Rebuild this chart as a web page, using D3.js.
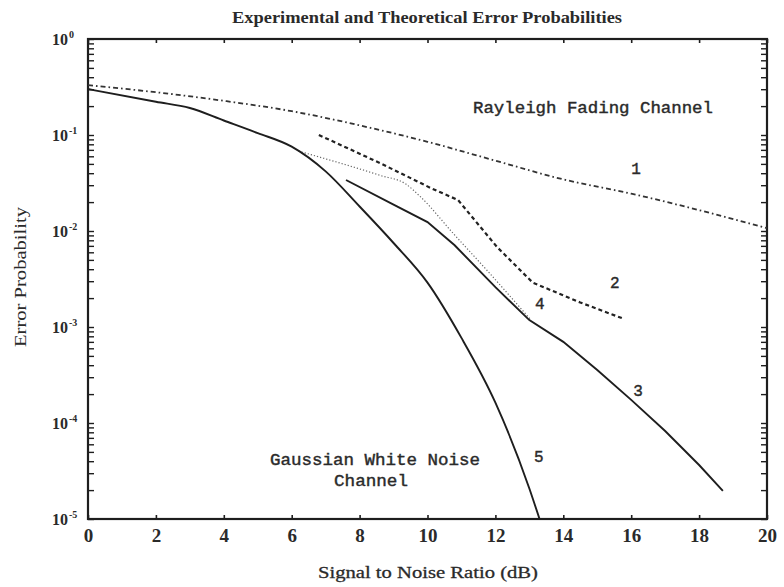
<!DOCTYPE html>
<html>
<head>
<meta charset="utf-8">
<script src="https://cdn.jsdelivr.net/npm/d3@7"></script>
<style>
  html, body { margin: 0; padding: 0; background: #fff; }
  svg { display: block; }
</style>
</head>
<body>
<svg id="chart" width="784" height="587"></svg>
<script>
// Signal-to-noise ratio (dB) and error probability for each curve
const snr1 = [0, 2, 4, 6, 8, 10, 12, 14, 16, 18, 20];
const pe1  = [0.33, 0.279, 0.227, 0.177, 0.126, 0.085, 0.054, 0.0345, 0.0245, 0.0165, 0.0107];

const snr2 = [6.8, 8.6, 10.1, 10.9, 12.05, 13.1, 14.5, 15.8];
const pe2  = [0.1, 0.051, 0.028, 0.021, 0.0068, 0.0029, 0.0018, 0.00121];

const snr3 = [7.6, 9, 10, 10.8, 12, 13, 14, 15, 16, 17, 18, 18.7];
const pe3  = [0.034, 0.0188, 0.0124, 0.0071, 0.0026, 0.00118, 0.0007, 0.000356, 0.000174, 0.0000826, 0.0000365, 0.0000196];

const snr4 = [6.2, 8.6, 9.35, 9.8, 10.75, 11.75, 13.05];
const pe4  = [0.068, 0.038, 0.031, 0.0226, 0.0095, 0.0039, 0.00118];

const snr5 = [0, 2, 3, 4, 5, 6, 7, 8, 9, 10, 11, 12, 13, 13.3];
const pe5  = [0.301, 0.222, 0.191, 0.1416, 0.1047, 0.0756, 0.0418, 0.018, 0.0075, 0.0029, 0.00077, 0.000163, 0.0000208, 0.00001];

const xTicks = [0, 2, 4, 6, 8, 10, 12, 14, 16, 18, 20];
const yExponents = [0, -1, -2, -3, -4, -5];

const curveNames = ["1", "2", "3", "4", "5"];
const curveLabelSnr = [16.14, 15.52, 16.2, 13.31, 13.28];
const curveLabelPe  = [0.043, 0.0028, 0.00021, 0.00169, 0.000043];

const svg = d3.select("#chart");
const ink = "#1e1e1e";

const x = d3.scaleLinear().domain([0, 20]).range([88, 767]);
const y = d3.scaleLog().domain([1e-5, 1]).range([519, 39]);

// minor + major log ticks (1..9 per decade)
const logTicks = y.ticks();

// tick marks, all pointing into the plot area
const gx = svg.append("g").attr("transform", `translate(0,${y(1e-5)})`)
  .call(d3.axisBottom(x).tickValues(xTicks).tickSizeInner(-4).tickSizeOuter(0).tickPadding(6)
    .tickFormat(d3.format("d")));
gx.select(".domain").remove();
gx.selectAll(".tick line").attr("stroke", ink).attr("stroke-width", 1.6);
gx.selectAll(".tick text")
  .attr("font-family", "'Liberation Serif', serif")
  .attr("font-size", 19)
  .attr("font-weight", "bold")
  .attr("fill", "#2a2a2a")
  .attr("dy", "0.9em");

const gxTop = svg.append("g").attr("transform", `translate(0,${y(1)})`)
  .call(d3.axisTop(x).tickValues(xTicks).tickSizeInner(-4).tickSizeOuter(0).tickFormat(""));
gxTop.select(".domain").remove();
gxTop.selectAll(".tick line").attr("stroke", ink).attr("stroke-width", 1.6);

const gyL = svg.append("g").attr("transform", `translate(${x(0)},0)`)
  .call(d3.axisLeft(y).tickValues(logTicks).tickSizeInner(-6).tickSizeOuter(0).tickFormat(""));
gyL.select(".domain").remove();
gyL.selectAll(".tick line").attr("stroke", ink).attr("stroke-width", 1.4);

const gyR = svg.append("g").attr("transform", `translate(${x(20)},0)`)
  .call(d3.axisRight(y).tickValues(logTicks).tickSizeInner(-6).tickSizeOuter(0).tickFormat(""));
gyR.select(".domain").remove();
gyR.selectAll(".tick line").attr("stroke", ink).attr("stroke-width", 1.4);

// plot frame
svg.append("rect")
  .attr("x", x(0)).attr("y", y(1))
  .attr("width", x(20) - x(0)).attr("height", y(1e-5) - y(1))
  .attr("fill", "none").attr("stroke", ink).attr("stroke-width", 2.2);

// y tick labels as powers of ten
const yl = svg.append("g")
  .attr("font-family", "'Liberation Serif', serif")
  .attr("fill", "#2a2a2a")
  .attr("font-weight", "bold");
yExponents.forEach(e => {
  const t = yl.append("text")
    .attr("x", 52).attr("y", y(Math.pow(10, e)) + 6)
    .attr("font-size", 16);
  t.append("tspan").text("10");
  t.append("tspan").attr("font-size", 10).attr("dy", -7).attr("dx", 1).text(e === 0 ? "0" : "-" + Math.abs(e));
});

// curves
const line = d3.line().x(d => x(d[0])).y(d => y(d[1]));
const smooth = d3.line().x(d => x(d[0])).y(d => y(d[1])).curve(d3.curveMonotoneX);
const zip = (a, b) => a.map((v, i) => [v, b[i]]);

svg.append("path").datum(zip(snr1, pe1)).attr("d", smooth)
  .attr("fill", "none").attr("stroke", "#333").attr("stroke-width", 1.8)
  .attr("stroke-dasharray", "5,3,1.6,3");

svg.append("path").datum(zip(snr2, pe2)).attr("d", line)
  .attr("fill", "none").attr("stroke", "#222").attr("stroke-width", 2.2)
  .attr("stroke-dasharray", "4,3");

svg.append("path").datum(zip(snr4, pe4)).attr("d", smooth)
  .attr("fill", "none").attr("stroke", "#666").attr("stroke-width", 1.2)
  .attr("stroke-dasharray", "1.2,2");

svg.append("path").datum(zip(snr3, pe3)).attr("d", line)
  .attr("fill", "none").attr("stroke", ink).attr("stroke-width", 1.9);

svg.append("path").datum(zip(snr5, pe5)).attr("d", smooth)
  .attr("fill", "none").attr("stroke", ink).attr("stroke-width", 1.9);

// curve numbers
const mono = "'Liberation Mono', 'DejaVu Sans Mono', monospace";
svg.append("g").selectAll("text").data(curveNames).join("text")
  .attr("x", (d, i) => x(curveLabelSnr[i]))
  .attr("y", (d, i) => y(curveLabelPe[i]))
  .attr("text-anchor", "middle")
  .attr("dominant-baseline", "central")
  .attr("font-family", mono).attr("font-size", 16)
  .attr("fill", "#2a2a2a").attr("stroke", "#2a2a2a").attr("stroke-width", 0.4)
  .text(d => d);

// channel annotations
const note = (txt, xs, yb, len) => svg.append("text")
  .attr("x", xs).attr("y", yb)
  .attr("font-family", mono).attr("font-size", 16)
  .attr("textLength", len).attr("lengthAdjust", "spacingAndGlyphs")
  .attr("fill", "#2a2a2a").attr("stroke", "#2a2a2a").attr("stroke-width", 0.4)
  .text(txt);
note("Rayleigh Fading Channel", 473, 113, 240);
note("Gaussian White Noise", 270, 465, 210);
note("Channel", 334, 486, 74);

// title and axis titles
svg.append("text")
  .attr("x", 232).attr("y", 23)
  .attr("font-family", "'Liberation Serif', serif").attr("font-size", 16).attr("font-weight", "bold")
  .attr("textLength", 390).attr("lengthAdjust", "spacingAndGlyphs")
  .attr("fill", "#2a2a2a")
  .text("Experimental and Theoretical Error Probabilities");

svg.append("text")
  .attr("x", 318).attr("y", 578)
  .attr("font-family", "'Liberation Serif', serif").attr("font-size", 17)
  .attr("textLength", 220).attr("lengthAdjust", "spacingAndGlyphs")
  .attr("fill", "#2a2a2a").attr("stroke", "#2a2a2a").attr("stroke-width", 0.3)
  .text("Signal to Noise Ratio (dB)");

svg.append("text")
  .attr("transform", "translate(26,277) rotate(-90)")
  .attr("text-anchor", "middle")
  .attr("font-family", "'Liberation Serif', serif").attr("font-size", 16)
  .attr("textLength", 140).attr("lengthAdjust", "spacingAndGlyphs")
  .attr("fill", "#2a2a2a")
  .text("Error Probability");
</script>
</body>
</html>
